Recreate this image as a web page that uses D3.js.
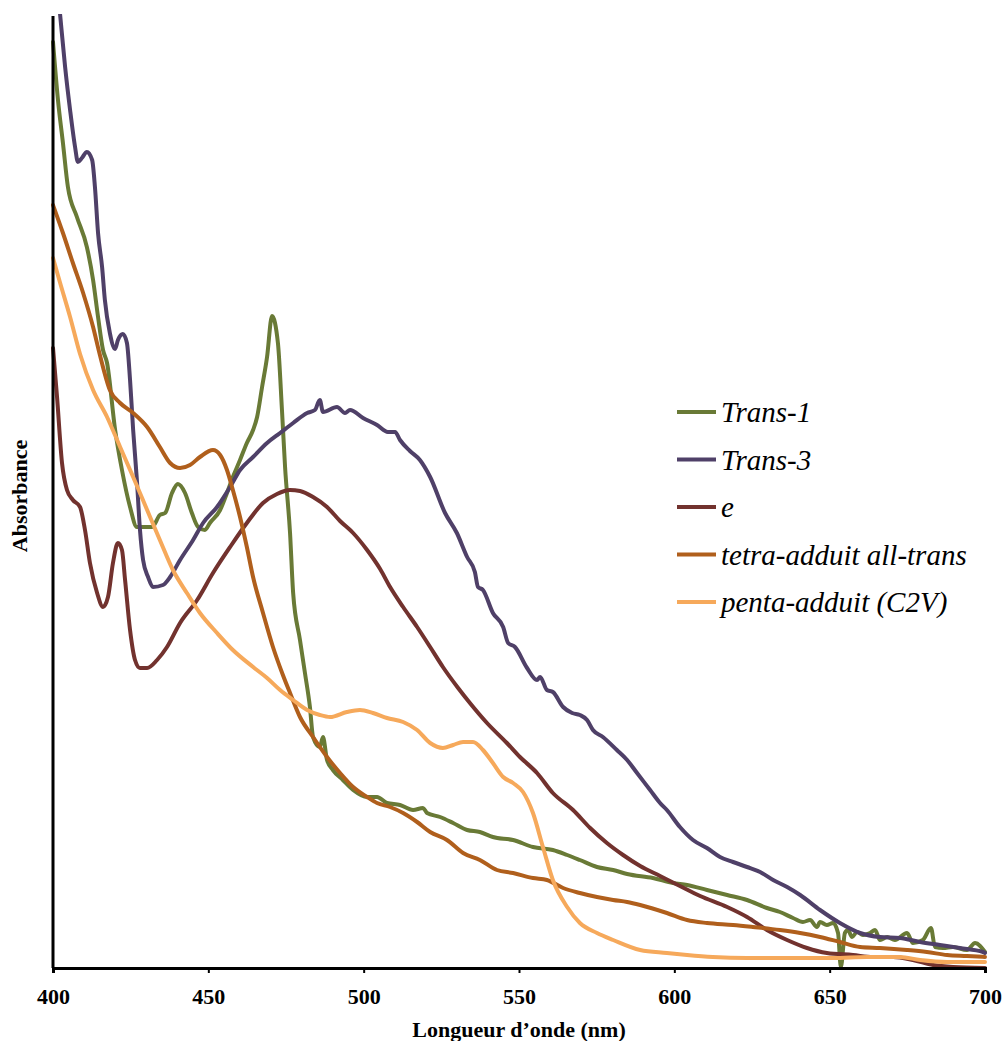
<!DOCTYPE html>
<html><head><meta charset="utf-8">
<script src="https://cdn.jsdelivr.net/npm/d3@7/dist/d3.min.js"></script>
<style>body{margin:0;background:#fff}svg{display:block}</style>
</head><body>
<svg id="chart" width="1002" height="1041"></svg>
<script>
const seriesNames = ["Trans-1","Trans-3","e","tetra-adduit all-trans","penta-adduit (C2V)"];
const seriesColors = ["#697a36","#4f4068","#72322e","#b05f1c","#f6a95b"];
const xTicks = [400,450,500,550,600,650,700];

const trans1 = [[400,0.926],[401.6,0.868],[403.2,0.825],[404.8,0.781],[407.7,0.751],[410.9,0.721],[412.9,0.688],[414.5,0.651],[416.1,0.618],[417.4,0.605],[420.0,0.538],[422.2,0.498],[424.8,0.461],[427.0,0.441],[431.9,0.441],[434.4,0.453],[436.1,0.455],[438.3,0.475],[440.2,0.484],[442.5,0.475],[444.7,0.455],[446.7,0.441],[448.9,0.438],[450.5,0.445],[453.8,0.458],[456.0,0.475],[457.9,0.491],[460.2,0.508],[462.4,0.525],[464.4,0.538],[465.7,0.551],[467.3,0.581],[468.9,0.611],[470.5,0.652],[472.4,0.625],[473.7,0.558],[474.7,0.501],[476.3,0.435],[477.3,0.375],[479.5,0.328],[481.1,0.295],[482.7,0.261],[483.7,0.231],[485.9,0.221],[486.9,0.231],[488.2,0.208],[490.1,0.198],[493.3,0.188],[496.6,0.178],[501.1,0.171],[504.3,0.171],[507.5,0.165],[511.7,0.163],[515.9,0.158],[519.1,0.160],[520.4,0.155],[524.6,0.151],[528.8,0.145],[533.3,0.138],[537.4,0.136],[541.6,0.131],[548.1,0.128],[554.5,0.121],[560.9,0.118],[565.5,0.113],[569.6,0.108],[575.1,0.101],[580.3,0.098],[584.8,0.094],[593.1,0.090],[599.6,0.085],[604.1,0.083],[610.5,0.078],[617.0,0.073],[623.4,0.068],[629.8,0.060],[634.0,0.056],[638.2,0.050],[641.4,0.046],[643.7,0.048],[645.9,0.041],[646.9,0.046],[649.1,0.043],[651.1,0.045],[652.7,0.035],[653.6,0.001],[654.9,0.035],[655.9,0.038],[657.2,0.031],[658.8,0.036],[660.7,0.033],[663.0,0.035],[664.6,0.038],[666.2,0.028],[668.5,0.031],[671.0,0.028],[674.9,0.035],[676.8,0.025],[680.0,0.028],[682.6,0.040],[683.9,0.021],[686.5,0.020],[689.7,0.021],[694.2,0.018],[696.8,0.025],[700,0.016]];

const trans3 = [[400,1.03],[402.3,0.953],[403.9,0.901],[405.5,0.858],[407.1,0.821],[408.0,0.806],[409.3,0.810],[410.9,0.816],[412.6,0.808],[413.5,0.781],[414.5,0.735],[415.8,0.701],[416.7,0.668],[418.3,0.635],[420.0,0.619],[420.9,0.628],[422.5,0.634],[423.8,0.625],[424.8,0.588],[425.8,0.538],[427.0,0.488],[428.0,0.438],[429.0,0.408],[430.6,0.391],[432.2,0.381],[435.4,0.383],[437.7,0.391],[440.9,0.408],[445.1,0.428],[448.3,0.445],[452.8,0.461],[457.0,0.481],[460.2,0.498],[464.4,0.511],[468.9,0.525],[473.1,0.535],[477.3,0.545],[481.8,0.555],[484.3,0.558],[485.9,0.568],[486.9,0.556],[491.4,0.561],[494.0,0.555],[495.6,0.558],[499.8,0.550],[504.3,0.543],[507.8,0.536],[510.1,0.536],[511.7,0.528],[514.9,0.517],[518.1,0.508],[521.4,0.491],[526.2,0.455],[530.0,0.435],[533.3,0.411],[535.8,0.396],[536.8,0.381],[538.4,0.378],[541.6,0.355],[544.9,0.341],[546.5,0.325],[548.7,0.321],[552.6,0.300],[555.8,0.288],[556.8,0.291],[559.0,0.278],[560.9,0.276],[564.2,0.261],[567.1,0.255],[569.6,0.253],[571.9,0.248],[573.8,0.238],[577.0,0.231],[581.5,0.218],[584.8,0.208],[588.0,0.195],[592.2,0.178],[595.4,0.165],[597.6,0.158],[601.8,0.141],[606.0,0.128],[610.5,0.120],[614.7,0.111],[618.9,0.106],[623.4,0.101],[627.6,0.096],[631.8,0.088],[636.3,0.081],[640.5,0.073],[646.9,0.058],[653.3,0.045],[659.8,0.035],[666.2,0.031],[672.6,0.030],[679.1,0.026],[685.5,0.023],[691.9,0.020],[699.4,0.016],[700,0.015]];

const eSeries = [[400,0.620],[401.3,0.571],[402.9,0.505],[404.5,0.478],[406.4,0.468],[408.7,0.461],[410.3,0.438],[411.9,0.405],[414.2,0.375],[416.1,0.361],[417.7,0.371],[419.3,0.405],[420.9,0.425],[422.2,0.418],[423.2,0.388],[424.8,0.338],[426.4,0.308],[428.0,0.300],[430.3,0.300],[433.5,0.308],[436.7,0.321],[440.9,0.345],[446.4,0.368],[451.5,0.395],[457.0,0.421],[462.4,0.445],[467.6,0.465],[472.1,0.474],[476.3,0.478],[479.5,0.477],[483.7,0.471],[488.2,0.461],[492.4,0.447],[496.6,0.435],[501.1,0.418],[505.3,0.399],[508.5,0.381],[512.7,0.361],[517.2,0.341],[521.4,0.321],[525.5,0.301],[530.4,0.280],[534.2,0.265],[539.7,0.245],[546.1,0.225],[550.3,0.211],[555.8,0.195],[560.9,0.175],[567.4,0.158],[572.9,0.140],[578.3,0.125],[583.5,0.113],[589.0,0.102],[595.4,0.092],[601.8,0.082],[608.3,0.072],[617.0,0.061],[623.4,0.051],[629.8,0.038],[636.3,0.028],[642.7,0.020],[649.1,0.015],[657.5,0.013],[663.9,0.011],[670.4,0.011],[676.8,0.008],[683.3,0.003],[689.7,0.001],[700,0.000]];

const tetra = [[400,0.763],[403.2,0.735],[406.4,0.705],[409.7,0.675],[412.9,0.641],[415.1,0.613],[418.3,0.578],[421.6,0.565],[425.8,0.555],[430.3,0.541],[434.4,0.521],[437.7,0.505],[440.9,0.500],[444.1,0.503],[447.3,0.511],[451.5,0.518],[453.8,0.513],[456.0,0.498],[457.9,0.478],[460.2,0.451],[462.4,0.421],[464.4,0.391],[467.6,0.355],[470.8,0.321],[474.0,0.293],[476.3,0.275],[479.5,0.251],[483.7,0.231],[488.2,0.211],[492.4,0.195],[496.6,0.181],[501.1,0.171],[504.3,0.165],[508.5,0.161],[512.7,0.155],[517.2,0.146],[521.4,0.136],[526.8,0.128],[532.0,0.115],[537.4,0.108],[542.9,0.098],[548.1,0.095],[554.5,0.090],[559.0,0.088],[564.2,0.080],[569.6,0.075],[575.1,0.071],[580.3,0.068],[584.8,0.066],[589.0,0.063],[597.6,0.055],[604.1,0.048],[610.5,0.045],[618.9,0.043],[625.3,0.041],[634.0,0.038],[640.5,0.035],[646.9,0.031],[653.3,0.026],[659.8,0.021],[666.2,0.020],[674.9,0.018],[681.3,0.016],[687.8,0.013],[694.2,0.012],[700,0.011]];

const penta = [[400,0.710],[402.3,0.685],[405.5,0.651],[408.7,0.614],[412.9,0.578],[417.4,0.551],[421.6,0.521],[425.8,0.491],[430.3,0.458],[434.4,0.428],[438.6,0.398],[443.1,0.375],[447.3,0.355],[452.8,0.335],[457.9,0.318],[464.4,0.301],[468.9,0.290],[473.1,0.278],[477.3,0.268],[481.8,0.258],[485.9,0.253],[489.2,0.251],[494.6,0.256],[498.8,0.258],[503.0,0.255],[507.5,0.250],[512.7,0.246],[517.2,0.238],[521.4,0.225],[525.5,0.220],[528.8,0.223],[532.0,0.226],[535.2,0.226],[538.4,0.218],[541.6,0.205],[544.9,0.191],[548.1,0.185],[551.3,0.176],[554.5,0.155],[557.7,0.121],[560.9,0.088],[565.5,0.061],[569.6,0.045],[575.1,0.035],[580.3,0.028],[589.0,0.018],[597.6,0.015],[604.1,0.013],[612.4,0.011],[623.4,0.010],[636.3,0.010],[651.1,0.010],[662.0,0.011],[672.6,0.011],[679.1,0.008],[687.8,0.006],[700,0.006]];

const allSeries = [trans1, trans3, eSeries, tetra, penta];

const svg = d3.select("#chart");
const x = d3.scaleLinear().domain([400,700]).range([53,985]);
const y = d3.scaleLinear().domain([0,0.952]).range([968,16]);

svg.append("defs").append("clipPath").attr("id","plot")
  .append("rect").attr("x",50).attr("y",14).attr("width",940).attr("height",960);

const line = d3.line().x(d=>x(d[0])).y(d=>y(d[1])).curve(d3.curveMonotoneX);
const g = svg.append("g").attr("clip-path","url(#plot)");
allSeries.forEach((s,i)=>{
  g.append("path").datum(s).attr("d",line)
    .attr("fill","none").attr("stroke",seriesColors[i])
    .attr("stroke-width",4).attr("stroke-linejoin","round").attr("stroke-linecap","round");
});

// axes
const xAxis = svg.append("g").attr("transform",`translate(0,${y(0)})`)
  .call(d3.axisBottom(x).tickValues(xTicks).tickSize(5).tickPadding(15).tickFormat(d3.format("d")));
xAxis.select(".domain").attr("stroke","#000").attr("stroke-width",3);
xAxis.selectAll(".tick line").attr("stroke","#000").attr("stroke-width",2);
xAxis.selectAll(".tick text").attr("font-family","'Liberation Serif', 'Times New Roman', serif")
  .attr("font-weight","bold").attr("font-size",22).attr("fill","#000");

svg.append("line").attr("x1",x(400)).attr("x2",x(400)).attr("y1",16).attr("y2",y(0))
  .attr("stroke","#000").attr("stroke-width",3);

svg.append("text").attr("x",(x(400)+x(700))/2).attr("y",1037)
  .attr("text-anchor","middle").attr("font-family","'Liberation Serif', 'Times New Roman', serif")
  .attr("font-weight","bold").attr("font-size",22).text("Longueur d\u2019onde (nm)");

svg.append("text").attr("transform","translate(27,496) rotate(-90)")
  .attr("text-anchor","middle").attr("font-family","'Liberation Serif', 'Times New Roman', serif")
  .attr("font-weight","bold").attr("font-size",22).text("Absorbance");

// legend
const leg = svg.append("g");
seriesNames.forEach((n,i)=>{
  const yy = 412 + i*47.5;
  leg.append("line").attr("x1",677).attr("x2",716).attr("y1",yy).attr("y2",yy)
    .attr("stroke",seriesColors[i]).attr("stroke-width",4);
  leg.append("text").attr("x",721).attr("y",yy+10)
    .attr("font-family","'Liberation Serif', 'Times New Roman', serif")
    .attr("font-style","italic").attr("font-size",29).text(n);
});
</script>
</body></html>
